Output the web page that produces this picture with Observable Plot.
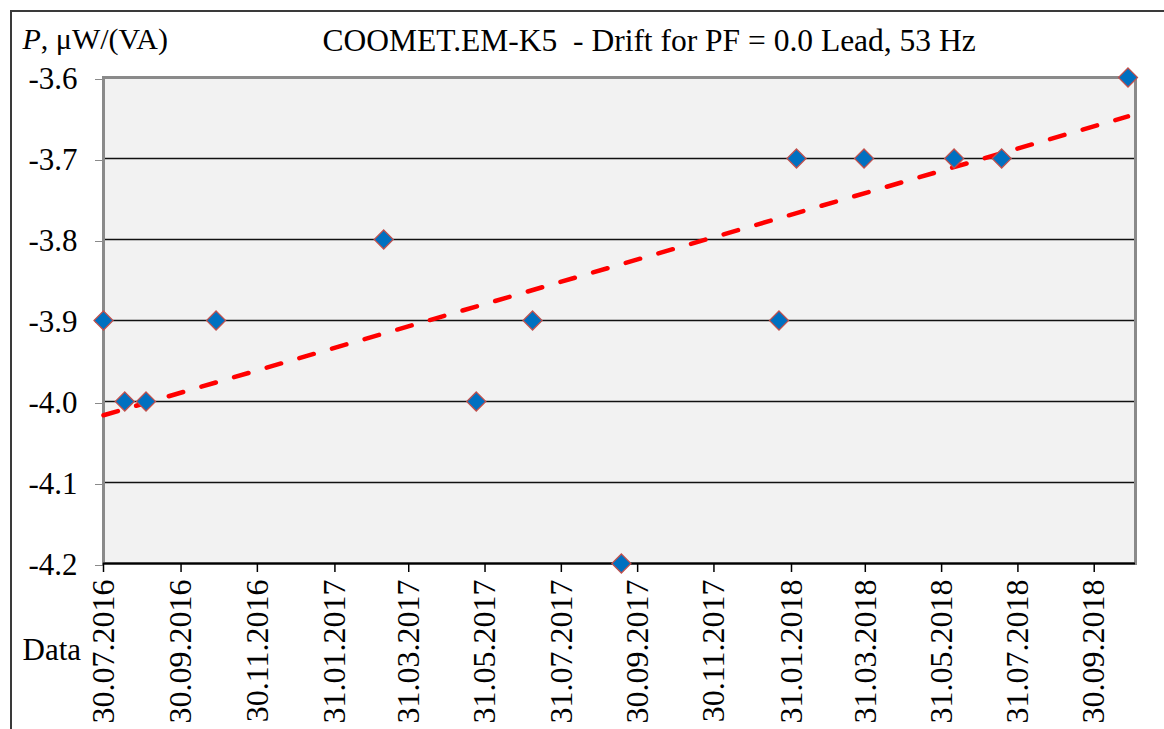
<!DOCTYPE html>
<html>
<head>
<meta charset="utf-8">
<script src="https://cdn.jsdelivr.net/npm/d3@7"></script>
<script src="https://cdn.jsdelivr.net/npm/@observablehq/plot@0.6"></script>
<style>
  html, body { margin: 0; padding: 0; background: #fff; overflow: hidden; }
  #wrap { position: relative; width: 1164px; height: 729px; }
  #border { position: absolute; left: 10px; top: 10px; width: 1200px; height: 800px;
            border-left: 2px solid #3a3a3a; border-top: 2px solid #3a3a3a; pointer-events: none; }
  #chart { position: absolute; left: 0; top: 0; }
  .ser { font-family: "Liberation Serif", "DejaVu Serif", serif !important; }
</style>
</head>
<body>
<div id="wrap"><div id="chart"></div><div id="border"></div></div>
<script>
// ---- data ----
const measureDates = ["2016-07-30","2016-08-16","2016-09-02","2016-10-28","2017-03-11","2017-05-24",
  "2017-07-08","2017-09-17","2018-01-21","2018-02-04","2018-03-30","2018-06-10","2018-07-18","2018-10-27"];
const measureValues = [-3.9,-4.0,-4.0,-3.9,-3.8,-4.0,-3.9,-4.2,-3.9,-3.7,-3.7,-3.7,-3.7,-3.6];

const trendDates = ["2016-07-30","2018-10-27"];
const trendValues = [-4.017,-3.648];

const xTickDates = ["2016-07-30","2016-09-30","2016-11-30","2017-01-31","2017-03-31","2017-05-31",
  "2017-07-31","2017-09-30","2017-11-30","2018-01-31","2018-03-31","2018-05-31","2018-07-31","2018-09-30"];
const yTicks = [-3.6,-3.7,-3.8,-3.9,-4.0,-4.1,-4.2];
const xDomain = ["2016-07-30","2018-11-02"];
const yDomain = [-4.2,-3.6];

const titleText = "COOMET.EM-K5 \u00a0- Drift for PF = 0.0 Lead, 53 Hz";
const yLabelText = "P, μW/(VA)";
const xLabelText = "Data";

// ---- build ----
const parse = s => new Date(s + "T00:00:00Z");
const points = measureDates.map((d, i) => ({date: parse(d), value: measureValues[i]}));
const trend = trendDates.map((d, i) => ({date: parse(d), value: trendValues[i]}));
const xTicks = xTickDates.map(parse);
const fmt = d3.utcFormat("%d.%m.%Y");
const FONT = "Liberation Serif";

const chart = Plot.plot({
  width: 1164,
  height: 729,
  marginLeft: 103,
  marginRight: 29,
  marginTop: 77,
  marginBottom: 166,
  style: {background: "transparent", color: "black"},
  x: {type: "utc", domain: xDomain.map(parse)},
  y: {domain: yDomain},
  marks: [
    Plot.frame({fill: "#f2f2f2"}),
    Plot.ruleY(yTicks.filter(v => v > -4.2 && v < -3.6), {stroke: "#111", strokeWidth: 1.5}),
    Plot.frame({stroke: "#8a8a8a", strokeWidth: 3}),
    Plot.ruleY([yDomain[0]], {stroke: "#000", strokeWidth: 2}),
    Plot.axisY({ticks: yTicks, tickFormat: d => d.toFixed(1), tickSize: 8, tickPadding: 18,
      stroke: "#8a8a8a", fill: "black", fontSize: 31, label: null, dy: 2}),
    Plot.axisX({ticks: xTicks, tickFormat: fmt, tickRotate: -90, tickSize: 9, tickPadding: 7,
      stroke: "black", strokeWidth: 1.5, fill: "black", fontSize: 32, label: null}),
    Plot.line(trend, {x: "date", y: "value", stroke: "#ff0000", strokeWidth: 4.5,
      strokeDasharray: "15,19", strokeLinecap: "round"}),
    Plot.dot(points, {x: "date", y: "value", symbol: "diamond2", r: 8.6,
      fill: "#0070C0", stroke: "#C0504D", strokeWidth: 1.2}),
    Plot.text([titleText], {frameAnchor: "top-left", dx: 219, dy: -26.5, textAnchor: "start",
      lineAnchor: "bottom", fontSize: 31.5, fill: "black"}),
    Plot.text([yLabelText], {frameAnchor: "top-left", dx: -81, dy: -29, textAnchor: "start",
      lineAnchor: "bottom", fontSize: 30, fill: "black"}),
    Plot.text([xLabelText], {frameAnchor: "bottom-left", dx: -81, dy: 96, textAnchor: "start",
      lineAnchor: "bottom", fontSize: 31, fill: "black"})
  ]
});

// serif font on every text element
d3.select(chart).attr("font-family", FONT).style("font-family", FONT);
d3.select(chart).selectAll("g").each(function() {
  if (this.getAttribute("font-family")) this.setAttribute("font-family", FONT);
});
d3.select(chart).selectAll("text").classed("ser", true).attr("font-family", FONT);

// italic P in the y label
d3.select(chart).selectAll("text").filter(function() { return this.textContent === yLabelText; })
  .each(function() {
    const t = d3.select(this);
    t.text(null);
    t.append("tspan").attr("font-style", "italic").text("P");
    t.append("tspan").text(yLabelText.slice(1));
  });

document.getElementById("chart").appendChild(chart);
</script>
</body>
</html>
